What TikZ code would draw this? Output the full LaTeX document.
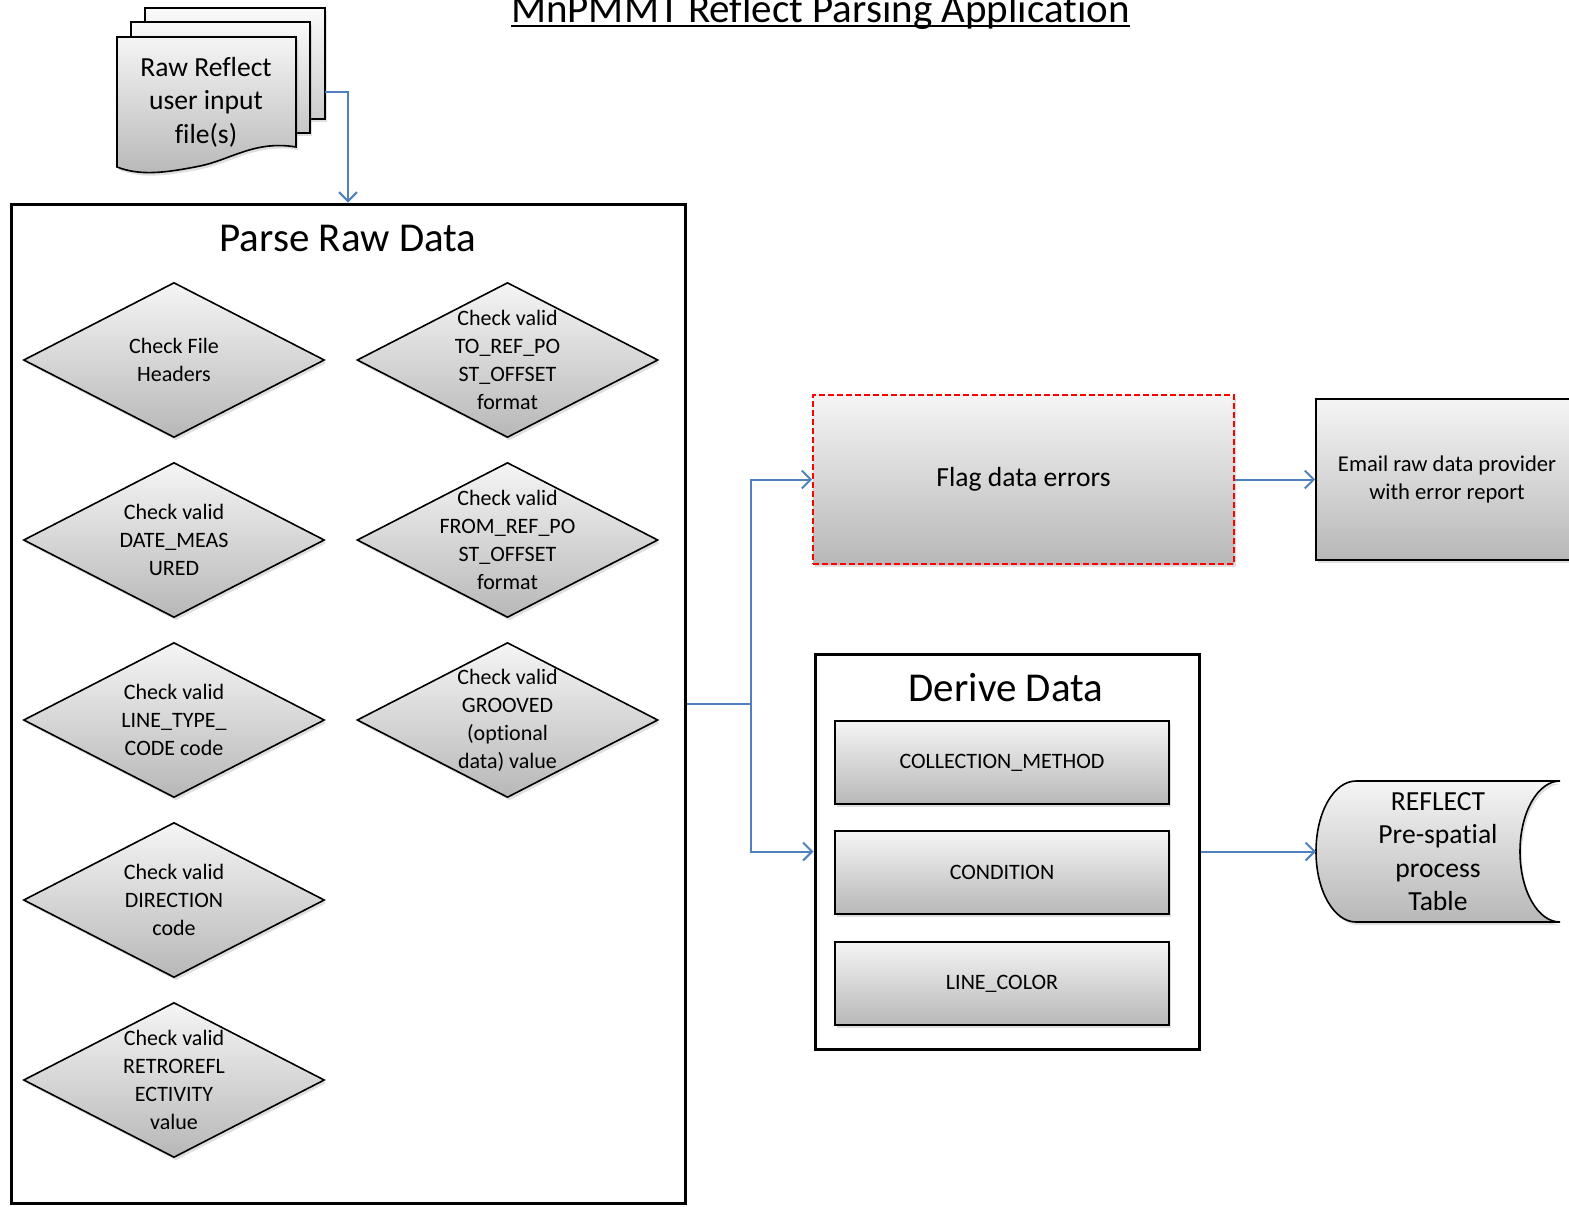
\documentclass[tikz,border=0pt]{standalone}
\usepackage{fontspec}
\setmainfont{Carlito}[Ligatures=NoCommon]
\usetikzlibrary{shapes.geometric,shadows,arrows.meta}

\definecolor{linkblue}{HTML}{4F81BD}

\tikzset{
  shade/.style={top color=black!4,bottom color=black!28},
  soft/.style={drop shadow={opacity=0.25,shadow xshift=1pt,shadow yshift=-1.5pt}},
  chk/.style={diamond,draw,line width=0.8pt,shade,soft,minimum width=150.5pt,minimum height=77.5pt,inner sep=0pt},
  chktxt/.style={align=center,font=\fontsize{11}{14}\selectfont},
  procbox/.style={rectangle,draw,line width=0.8pt,shade,soft,align=center},
  groupbox/.style={rectangle,draw,line width=1.5pt,fill=white},
  heading/.style={font=\fontsize{20.5}{24}\selectfont},
  flow/.style={draw=linkblue,line width=1pt,-{Straight Barb[length=4.5pt,width=9pt]}}
}

\begin{document}
\begin{tikzpicture}[x=0.5pt,y=-0.5pt]
\useasboundingbox (0,0) rectangle (1569,1206);

\node[heading,inner sep=0pt,anchor=base] (ttl) at (820.5,22) {MnPMMT Reflect Parsing Application};
\draw[line width=0.8pt] ([yshift=-2pt]ttl.base west) -- ([yshift=-2pt]ttl.base east);

\draw[line width=0.8pt,top color=black!2,bottom color=black!20,soft] (145,8) rectangle (325,119);
\draw[line width=0.8pt,top color=black!2,bottom color=black!22,soft] (131,22) rectangle (310,133);
\draw[line width=0.8pt,shade,soft] (117,37) -- (296,37) -- (296,147)
  .. controls (255,140) and (230,160) .. (200,166)
  .. controls (165,173) and (140,176) .. (117,167) -- cycle;
\node[align=center,font=\fontsize{13.8}{16.7}\selectfont] (raw) at (206,102) {Raw Reflect\\user input\\file(s)};
\coordinate (rawout) at (325,92);

\node[groupbox,minimum width=337pt,minimum height=499.5pt] (parse) at (348,703.5) {};
\node[heading] (parsettl) at (348,238) {Parse Raw Data};

\node[chk,label={[chktxt]center:{Check File\\Headers}}] (hdr) at (174,360) {};
\node[chk,label={[chktxt]center:{Check valid\\DATE\_MEAS\\URED}}] (date) at (174,540) {};
\node[chk,label={[chktxt]center:{Check valid\\LINE\_TYPE\_\\CODE code}}] (ltype) at (174,720) {};
\node[chk,label={[chktxt]center:{Check valid\\DIRECTION\\code}}] (dir) at (174,900) {};
\node[chk,label={[chktxt]center:{Check valid\\RETROREFL\\ECTIVITY\\value}}] (retro) at (174,1080) {};
\node[chk,label={[chktxt]center:{Check valid\\TO\_REF\_PO\\ST\_OFFSET\\format}}] (toref) at (507.5,360) {};
\node[chk,label={[chktxt]center:{Check valid\\FROM\_REF\_PO\\ST\_OFFSET\\format}}] (fromref) at (507.5,540) {};
\node[chk,label={[chktxt]center:{Check valid\\GROOVED\\(optional\\data) value}}] (groove) at (507.5,720) {};

\node[procbox,draw=red,dashed,dash pattern=on 3pt off 1.5pt,minimum width=210.5pt,minimum height=84.5pt,font=\fontsize{13.8}{16}\selectfont] (flag) at (1023.5,479.5) {Flag data errors};
\node[procbox,minimum width=131pt,minimum height=80.5pt,font=\fontsize{11.3}{14}\selectfont] (email) at (1447,479.5) {Email raw data provider\\with error report};

\node[groupbox,minimum width=192pt,minimum height=197.5pt] (derive) at (1007,851.5) {};
\node[heading] (derivettl) at (1006,688) {Derive Data};
\node[procbox,minimum width=167pt,minimum height=41.5pt,font=\fontsize{11}{14}\selectfont] (method) at (1002,762.5) {COLLECTION\_METHOD};
\node[procbox,minimum width=167pt,minimum height=41.5pt,font=\fontsize{11}{14}\selectfont] (cond) at (1002,872.5) {CONDITION};
\node[procbox,minimum width=167pt,minimum height=41.5pt,font=\fontsize{11}{14}\selectfont] (color) at (1002,983.5) {LINE\_COLOR};

\draw[line width=0.8pt,shade,soft] (1356,781) -- (1560,781)
  .. controls (1538,781) and (1520,812) .. (1520,851.5)
  .. controls (1520,891) and (1538,922) .. (1560,922)
  -- (1356,922)
  .. controls (1334,922) and (1316,891) .. (1316,851.5)
  .. controls (1316,812) and (1334,781) .. (1356,781) -- cycle;
\node[align=center,font=\fontsize{13.8}{16.7}\selectfont] (tbl) at (1438,851.5) {REFLECT\\Pre-spatial\\process\\Table};
\coordinate (tblin) at (1316,851.5);

\draw[flow] (rawout) -| (parse.north);
\draw[flow] (parse.east) -- ++(64,0) |- (flag.west);
\draw[flow] (parse.east) -- ++(64,0) |- (derive.west);
\draw[flow] (flag.east) -- (email.west);
\draw[flow] (derive.east) -- (tblin);
\end{tikzpicture}
\end{document}
